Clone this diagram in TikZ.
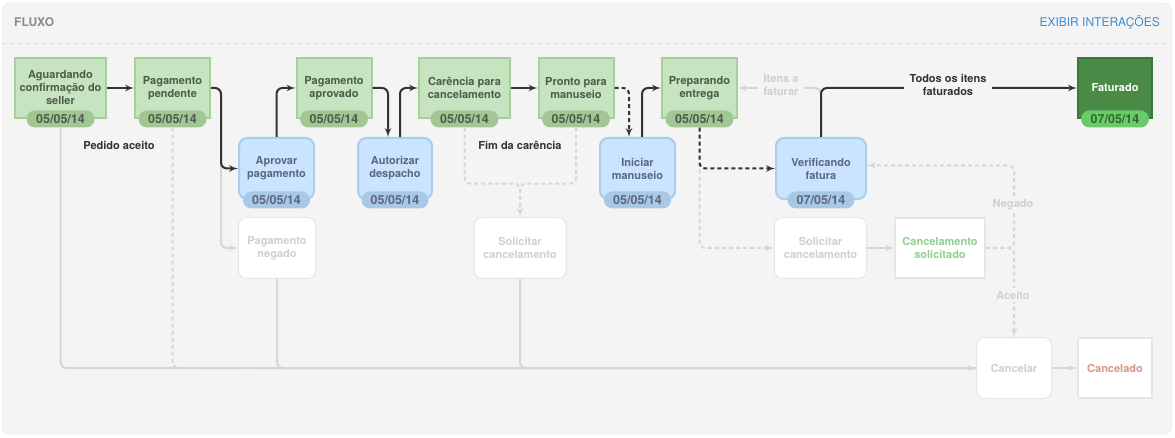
\documentclass[tikz,border=0pt]{standalone}
\usepackage{fontspec}
\setmainfont{TeX Gyre Heros}
\usepackage{xcolor}
\usepackage{tikz}
\usetikzlibrary{arrows,positioning}

\definecolor{PanelFill}{HTML}{F4F4F4}
\definecolor{PanelLine}{HTML}{E4E4E4}
\definecolor{SepLine}{HTML}{DDDDDD}
\definecolor{HeadGray}{HTML}{8A8A8A}
\definecolor{LinkBlue}{HTML}{3A8DD6}
\definecolor{GreenFill}{HTML}{C5E4BF}
\definecolor{GreenLine}{HTML}{A6D09A}
\definecolor{GreenPill}{HTML}{A3C794}
\definecolor{GreenText}{HTML}{4C5C4A}
\definecolor{BlueFill}{HTML}{C9E4FC}
\definecolor{BlueLine}{HTML}{A9CDEF}
\definecolor{BluePill}{HTML}{A8C8E6}
\definecolor{BlueText}{HTML}{5A6880}
\definecolor{DarkFill}{HTML}{4A8A47}
\definecolor{DarkLine}{HTML}{3B7838}
\definecolor{DarkPill}{HTML}{6BCB6B}
\definecolor{DarkPillText}{HTML}{2E6A2E}
\definecolor{GhostLine}{HTML}{E6E6E6}
\definecolor{GhostText}{HTML}{CFCFCF}
\definecolor{GhostFlow}{HTML}{D6D6D6}
\definecolor{CanSolText}{HTML}{8ED08E}
\definecolor{CanceladoText}{HTML}{D8968B}
\definecolor{FlowDark}{HTML}{333333}

\begin{document}
\begin{tikzpicture}[x=1pt, y=-1pt,
    font=\bfseries\fontsize{11}{13}\selectfont,
    box/.style={minimum width=75pt, minimum height=60pt, align=center, inner sep=2pt},
    donebox/.style={box, draw=GreenLine, line width=2pt, fill=GreenFill, text=GreenText},
    openbox/.style={box, rounded corners=8pt, draw=BlueLine, line width=2pt, fill=BlueFill, text=BlueText, minimum height=61pt},
    ghostbox/.style={box, rounded corners=8pt, draw=GhostLine, line width=1pt, fill=white, text=GhostText, minimum height=61pt},
    endbox/.style={box, draw=GhostLine, line width=2pt, fill=white},
    datepill/.style={rounded corners=8.5pt, minimum width=68pt, minimum height=17pt, inner sep=0pt,
      font=\bfseries\fontsize{12.5}{14}\selectfont},
    flow/.style={-latex', line width=2pt, draw=FlowDark, rounded corners=6pt},
    ghostflow/.style={line width=2pt, draw=GhostFlow, rounded corners=6pt},
    ghostdash/.style={ghostflow, dash pattern=on 4pt off 3pt},
    darkdash/.style={flow, dash pattern=on 4pt off 3pt},
    lbl/.style={text=FlowDark, inner sep=1pt, align=center},
    ghostlbl/.style={text=GhostText, fill=PanelFill, inner sep=3pt, align=center}]

  % panel
  \fill[white] (0,0) rectangle (1175,438);
  \useasboundingbox (0,0) rectangle (1175,438);
  \draw[PanelLine, fill=PanelFill, rounded corners=8pt] (2,3) rectangle (1172,434);
  \draw[SepLine, dash pattern=on 4pt off 4pt] (3,43) -- (1171,43);
  \node[anchor=west, inner sep=0pt, text=HeadGray, font=\bfseries\fontsize{12}{14}\selectfont] (fluxo) at (14,22) {FLUXO};
  \node[anchor=east, inner sep=0pt, text=LinkBlue, font=\fontsize{12}{14}\selectfont] (exibir) at (1160,22) {EXIBIR INTERAÇÕES};

  % top row
  \node[donebox, minimum width=91pt] (aguardando) at (60.5,88) {Aguardando\\confirmação do\\seller};
  \node[donebox] (pendente) at (172.5,88) {Pagamento\\pendente};
  \node[donebox] (aprovado) at (334,88) {Pagamento\\aprovado};
  \node[donebox, minimum width=91pt] (carencia) at (464.5,88) {Carência para\\cancelamento};
  \node[donebox] (pronto) at (576,88) {Pronto para\\manuseio};
  \node[donebox] (preparando) at (699.5,88) {Preparando\\entrega};
  \node[box, draw=DarkLine, line width=2pt, fill=DarkFill, text=white, minimum width=74pt] (faturado) at (1115,88) {Faturado};

  \foreach \n in {aguardando,pendente,aprovado,carencia,pronto,preparando}
    \node[datepill, fill=GreenPill, text=GreenText] (\n-data) at (\n.south) {05/05/14};
  \node[datepill, fill=DarkPill, text=DarkPillText] (faturado-data) at (faturado.south) {07/05/14};

  % second row
  \node[openbox] (aprovar) at (276.5,168.5) {Aprovar\\pagamento};
  \node[openbox, minimum width=74pt] (autorizar) at (395,168.5) {Autorizar\\despacho};
  \node[openbox] (iniciar) at (637.5,168.5) {Iniciar\\manuseio};
  \node[openbox, minimum width=90pt] (verificando) at (821,168.5) {Verificando\\fatura};

  \foreach \n in {aprovar,autorizar,iniciar}
    \node[datepill, minimum width=67pt, fill=BluePill, text=BlueText] (\n-data) at (\n.south) {05/05/14};
  \node[datepill, minimum width=67pt, fill=BluePill, text=BlueText] (verificando-data) at (verificando.south) {07/05/14};

  % third row
  \node[ghostbox, minimum width=77pt] (negado) at (277,248) {Pagamento\\negado};
  \node[ghostbox, minimum width=92pt] (solicitar) at (520,248) {Solicitar\\cancelamento};
  \node[ghostbox, minimum width=92pt] (solicitar-b) at (820.5,248) {Solicitar\\cancelamento};
  \node[endbox, minimum width=90pt, text=CanSolText, right=27pt of solicitar-b] (solicitado) {Cancelamento\\solicitado};
  \node[ghostbox] (cancelar) at (1014,368) {Cancelar};
  \node[endbox, minimum width=74pt, text=CanceladoText, right=25pt of cancelar] (cancelado) {Cancelado};

  \node[lbl] (pedido) at (119,145) {Pedido aceito};
  \node[lbl] (fim) at (520,145) {Fim da carência};

  % grey paths
  \draw[ghostflow, -latex'] (aguardando-data.south) |- (cancelar.west);
  \draw[ghostdash] (pendente-data.south) |- (cancelar.west);
  \draw[ghostflow] (negado.south) |- (cancelar.west);
  \draw[ghostflow] (solicitar.south) |- (cancelar.west);
  \draw[ghostflow, -latex'] (pendente.east) -- ++(10,0) |- (negado.west);
  \draw[ghostdash, -latex'] (carencia-data.south) -- ++(0,56) -| (solicitar.north);
  \draw[ghostdash] (pronto-data.south) -- ++(0,56) -| (solicitar.north);
  \draw[ghostdash, -latex'] (preparando-data.south) |- (solicitar-b.west);
  \draw[ghostflow, -latex'] (solicitar-b) -- (solicitado);
  \draw[ghostflow, -latex'] (cancelar) -- (cancelado);
  \coordinate (juncao) at (solicitado.east -| cancelar.north);
  \draw[ghostdash, -latex'] (solicitado.east) -- (juncao) |- ([yshift=3pt]verificando.east);
  \draw[ghostdash, -latex'] (solicitado.east) -- (juncao) -- (cancelar.north);
  \draw[ghostflow, -latex'] (verificando.north) |- (preparando.east);
  \node[ghostlbl] (negado-lbl) at (1013,205) {Negado};
  \node[ghostlbl] (aceito-lbl) at (1013,295) {Aceito};
  \node[ghostlbl, inner xsep=6pt] (itens) at (781,85) {Itens a\\faturar};

  % dark paths
  \draw[flow] (aguardando) -- (pendente);
  \draw[flow] (pendente.east) -- ++(10,0) |- (aprovar.west);
  \draw[flow] (aprovar.north) |- (aprovado.west);
  \draw[flow] (aprovado.east) -| ([xshift=-7pt]autorizar.north);
  \draw[flow] ([xshift=5pt]autorizar.north) |- (carencia.west);
  \draw[flow] (carencia) -- (pronto);
  \draw[darkdash] (pronto.east) -| ([xshift=-8.5pt]iniciar.north);
  \draw[flow] ([xshift=4.5pt]iniciar.north) |- (preparando.west);
  \draw[darkdash] (preparando-data.south) |- (verificando.west);
  \draw[flow] (verificando.north) |- (faturado.west);
  \node[lbl, fill=PanelFill, inner xsep=6pt] (todos) at (948,85) {Todos os itens\\faturados};
\end{tikzpicture}
\end{document}
